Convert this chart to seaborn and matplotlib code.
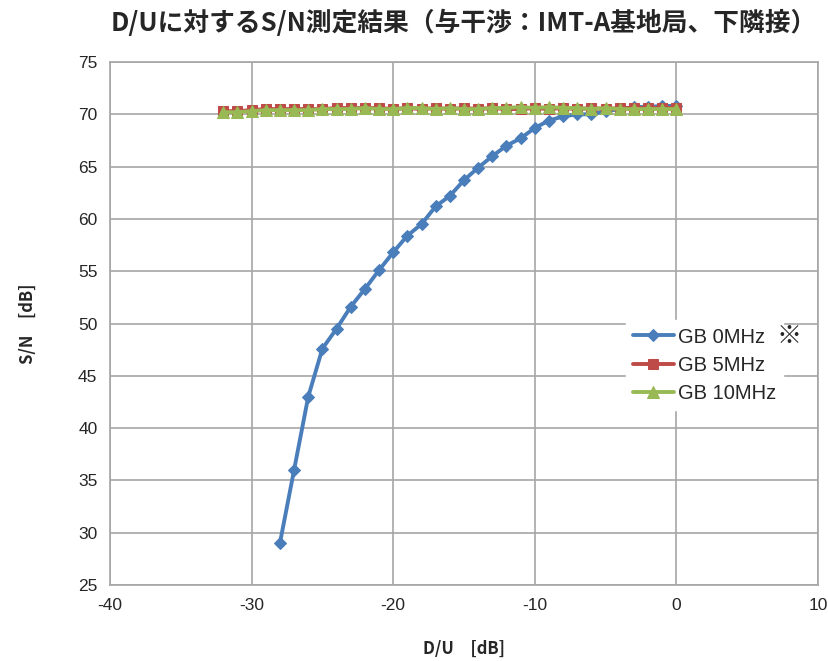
import numpy as np
import pandas as pd
import seaborn as sns
import matplotlib.pyplot as plt

du_0mhz = list(range(-28, 1))
sn_0mhz = [29.0, 36.0, 43.0, 47.6, 49.5, 51.6, 53.3, 55.1, 56.8, 58.4,
           59.5, 61.2, 62.2, 63.7, 64.9, 66.0, 67.0, 67.7, 68.7, 69.4,
           69.8, 70.0, 70.0, 70.3, 70.5, 70.7, 70.7, 70.8, 70.8]

du_5mhz = list(range(-32, 1))
sn_5mhz = [70.3, 70.3, 70.4, 70.5, 70.5, 70.5, 70.5, 70.5, 70.6, 70.6,
           70.6, 70.6, 70.5, 70.6, 70.5, 70.6, 70.5, 70.6, 70.5, 70.6,
           70.5, 70.5, 70.6, 70.5, 70.6, 70.5, 70.6, 70.5, 70.6, 70.6,
           70.6, 70.6, 70.6]

du_10mhz = list(range(-32, 1))
sn_10mhz = [70.2, 70.2, 70.3, 70.4, 70.4, 70.4, 70.4, 70.5, 70.5, 70.5,
            70.6, 70.5, 70.5, 70.6, 70.6, 70.5, 70.6, 70.5, 70.5, 70.6,
            70.6, 70.7, 70.6, 70.7, 70.6, 70.6, 70.5, 70.6, 70.5, 70.5,
            70.5, 70.5, 70.5]

labels = ['GB 0MHz', 'GB 5MHz', 'GB 10MHz']

df = pd.concat([
    pd.DataFrame({'DU': du_0mhz, 'SN': sn_0mhz, 'GB': labels[0]}),
    pd.DataFrame({'DU': du_5mhz, 'SN': sn_5mhz, 'GB': labels[1]}),
    pd.DataFrame({'DU': du_10mhz, 'SN': sn_10mhz, 'GB': labels[2]}),
])

sns.set_style('white')
plt.rcParams['font.family'] = ['Noto Sans CJK JP', 'DejaVu Sans']
plt.rcParams['axes.unicode_minus'] = False

colors = {labels[0]: '#4a7ebb', labels[1]: '#be4b48', labels[2]: '#98b954'}
markers = {labels[0]: 'D', labels[1]: 's', labels[2]: '^'}
sizes = {labels[0]: 6, labels[1]: 7, labels[2]: 8}

fig = plt.figure(figsize=(8.29, 6.61), dpi=100)
ax = fig.add_axes([110 / 829, 1 - 585 / 661, 708 / 829, 523 / 661])

# series drawn in order, later ones on top (like Excel)
for name in labels:
    sub = df[df['GB'] == name]
    sns.lineplot(data=sub, x='DU', y='SN', ax=ax, color=colors[name],
                 marker=markers[name], markersize=sizes[name],
                 markeredgecolor=colors[name], linewidth=2.8,
                 label=name, estimator=None, sort=False)

ax.set_xlim(-40, 10)
ax.set_ylim(25, 75)
ax.set_xticks(np.arange(-40, 11, 10))
ax.set_yticks(np.arange(25, 76, 5))
ax.grid(True, color='#a6a6a6', linewidth=1.2)
ax.set_axisbelow(True)
for s in ax.spines.values():
    s.set_color('#a6a6a6')
    s.set_linewidth(1.2)
ax.tick_params(axis='both', labelsize=12.5, direction='out', length=5,
               color='#808080', width=1.2, pad=4)
for t in ax.get_xticklabels() + ax.get_yticklabels():
    t.set_family(['Liberation Sans', 'DejaVu Sans'])

ax.set_xlabel('D/U　[dB]', fontsize=12, fontweight='bold', labelpad=20)
ax.set_ylabel('S/N　[dB]', fontsize=12, fontweight='bold', labelpad=30)
fig.suptitle('D/Uに対するS/N測定結果（与干渉：IMT-A基地局、下隣接）',
             fontsize=18.5, fontweight='bold', x=0.56, y=0.985)

leg = ax.legend(loc='upper left', bbox_to_anchor=(0.715, 0.525),
                frameon=True, fancybox=False, framealpha=1,
                edgecolor='white', handlelength=2.0,
                handletextpad=0.2, labelspacing=0.45, borderpad=0.35,
                prop={'family': ['Liberation Sans', 'DejaVu Sans'], 'size': 14.5})
fig.text(789 / 829, 1 - 336 / 661, '※', fontsize=18, ha='center', va='center')

fig.savefig('out.png', dpi=100)
